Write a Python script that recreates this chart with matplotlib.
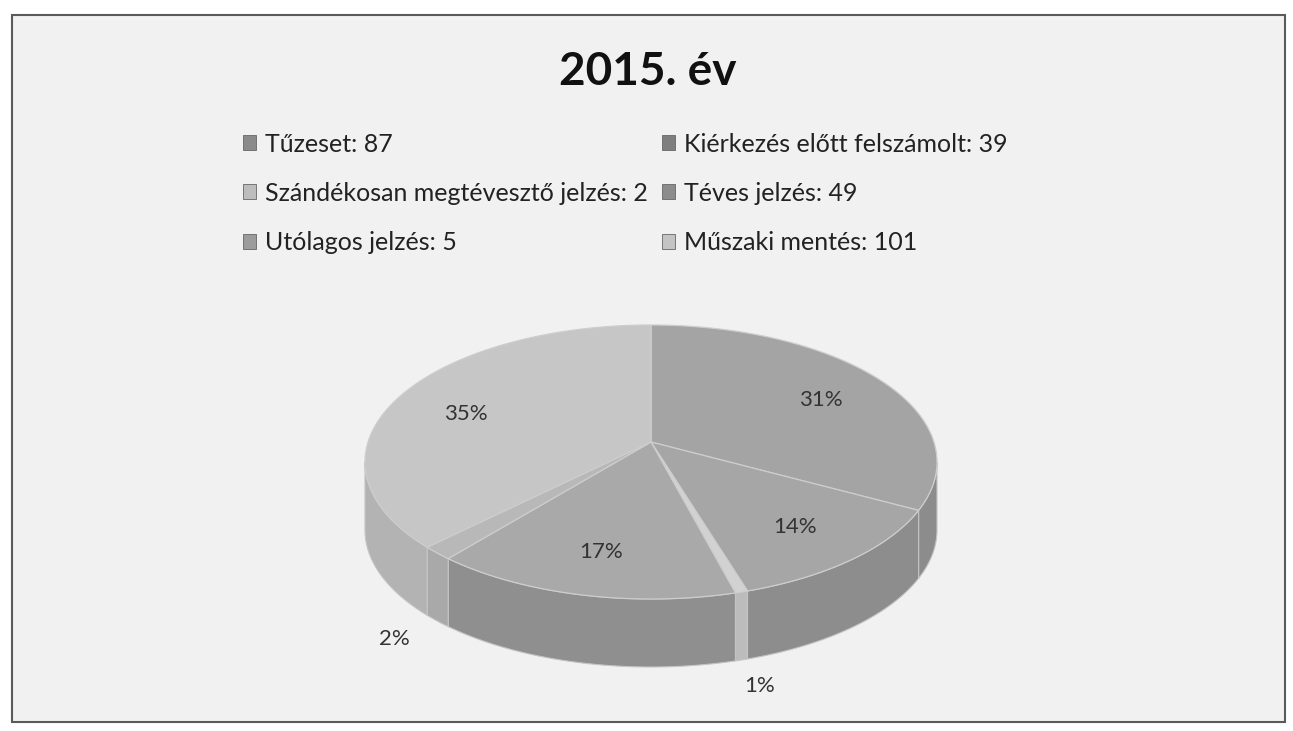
import numpy as np
import matplotlib
matplotlib.use('Agg')
import matplotlib.pyplot as plt
from matplotlib.patches import Polygon, Patch, Rectangle

# data
categories = ['Tűzeset', 'Kiérkezés előtt felszámolt', 'Szándékosan megtévesztő jelzés',
              'Téves jelzés', 'Utólagos jelzés', 'Műszaki mentés']
values = [87, 39, 2, 49, 5, 101]
pct_labels = ['31%', '14%', '1%', '17%', '2%', '35%']
title = '2015. év'

top_colors = ['#a4a4a4', '#a6a6a6', '#d2d2d2', '#a9a9a9', '#b8b8b8', '#c6c6c6']
side_colors = ['#8c8c8c', '#8d8d8d', '#bcbcbc', '#8f8f8f', '#a9a9a9', '#b3b3b3']
legend_colors = ['#8a8a8a', '#7e7e7e', '#bdbdbd', '#8c8c8c', '#9c9c9c', '#c4c4c4']

plt.rcParams['font.family'] = ['Lato', 'DejaVu Sans']

fig = plt.figure(figsize=(12.93, 7.31), dpi=100)
ax = fig.add_axes([0, 0, 1, 1])
ax.set_xlim(0, 1293)
ax.set_ylim(731, 0)
ax.axis('off')

# chart area (scanned paper look)
ax.add_patch(Rectangle((12, 15), 1273, 707, facecolor='#f1f1f1', edgecolor='#5a5a5a', lw=1.5))

ax.text(648, 72, title, ha='center', va='center', fontsize=33, fontweight='bold', color='#111111')

# pseudo 3D pie
cx, cy, a, b, depth = 651, 462, 286, 137, 68
apex = np.array([cx, cy - 20])
frac = np.array(values) / sum(values)
bounds = np.concatenate([[0], np.cumsum(frac)]) * 360


def rim(t0, t1, n=120):
    t = np.radians(np.linspace(t0, t1, n))
    return cx + a * np.sin(t), cy - b * np.cos(t)


# side walls (front half only)
for i in range(len(values)):
    lo, hi = max(bounds[i], 90), min(bounds[i + 1], 270)
    if hi > lo:
        x, y = rim(lo, hi)
        pts = np.column_stack([np.concatenate([x, x[::-1]]),
                               np.concatenate([y, y[::-1] + depth])])
        ax.add_patch(Polygon(pts, closed=True, facecolor=side_colors[i],
                             edgecolor='#c4c4c4', lw=0.8))

# top faces
for i in range(len(values)):
    x, y = rim(bounds[i], bounds[i + 1])
    pts = np.vstack([apex, np.column_stack([x, y])])
    ax.add_patch(Polygon(pts, closed=True, facecolor=top_colors[i],
                         edgecolor='#cdcdcd', lw=0.9))

# percentage labels
for i, lab in enumerate(pct_labels):
    m = (bounds[i] + bounds[i + 1]) / 2
    if frac[i] > 0.05:
        rx, ry = rim(m, m, 1)
        px = apex[0] + 0.72 * (rx[0] - apex[0])
        py = apex[1] + 0.72 * (ry[0] - apex[1])
    else:
        t = np.radians(m)
        px = cx + 1.2 * a * np.sin(t)
        py = cy - 1.2 * b * np.cos(t) + depth
    ax.text(px, py, lab, ha='center', va='center', fontsize=16, color='#333333')

# legend, row-major order like the original
handles = [Patch(facecolor=c, edgecolor='#666666', lw=0.6) for c in legend_colors]
labels = [f'{c}: {v}' for c, v in zip(categories, values)]
order = [0, 2, 4, 1, 3, 5]
leg = ax.legend([handles[k] for k in order], [labels[k] for k in order], ncol=2,
                loc='upper left', bbox_to_anchor=(220 / 1293, 1 - 110 / 731),
                frameon=False, fontsize=18, handlelength=0.55, handleheight=0.55,
                handletextpad=0.35, labelspacing=1.05, columnspacing=0.55,
                labelcolor='#222222')

fig.savefig('out.png', dpi=100)
